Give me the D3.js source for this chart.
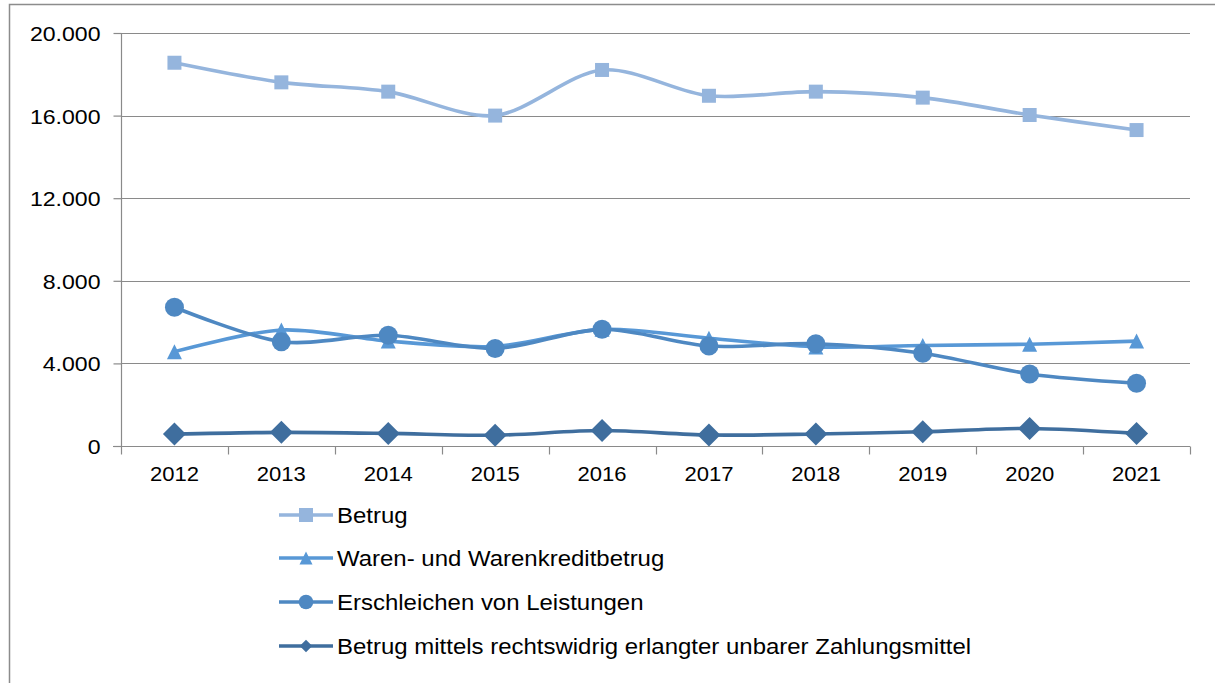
<!DOCTYPE html>
<html>
<head>
<meta charset="utf-8">
<script src="https://cdn.jsdelivr.net/npm/d3@7"></script>
<style>
  html, body { margin: 0; padding: 0; background: #fff; }
  svg { display: block; font-family: "Liberation Sans", Arial, sans-serif; }
</style>
</head>
<body>
<svg id="chart" width="1215" height="683"></svg>
<script>
// Fallzahlen je Jahr
const years = ["2012", "2013", "2014", "2015", "2016", "2017", "2018", "2019", "2020", "2021"];
const betrug = [18560, 17610, 17160, 16000, 18210, 16960, 17160, 16870, 16030, 15300];
const warenBetrug = [4570, 5620, 5080, 4820, 5650, 5220, 4800, 4870, 4930, 5080];
const erschleichen = [6720, 5050, 5360, 4720, 5650, 4840, 4950, 4490, 3490, 3040];
const unbarZahlung = [580, 660, 610, 520, 750, 530, 580, 690, 850, 610];
const yTicks = [0, 4000, 8000, 12000, 16000, 20000];

const seriesNames = [
  "Betrug",
  "Waren- und Warenkreditbetrug",
  "Erschleichen von Leistungen",
  "Betrug mittels rechtswidrig erlangter unbarer Zahlungsmittel"
];
const seriesValues = [betrug, warenBetrug, erschleichen, unbarZahlung];
const seriesColors = ["#95B5DD", "#5898D6", "#4E88C2", "#3F6E9E"];
const markerKinds = ["square", "triangle", "circle", "diamond"];

// marker shapes drawn centred on (0,0); s = overall size in px
function markerPath(kind, s) {
  const h = s / 2;
  if (kind === "square") return `M${-h},${-h}H${h}V${h}H${-h}Z`;
  if (kind === "diamond") return `M0,${-h}L${h},0L0,${h}L${-h},0Z`;
  if (kind === "triangle") return `M0,${-h}L${h},${h}L${-h},${h}Z`;
  return d3.arc()({ innerRadius: 0, outerRadius: h, startAngle: 0, endAngle: 2 * Math.PI });
}
const markerSizes = [14, 15, 19, 23];
const legendMarkerSizes = [14, 13, 14.5, 12.5];

const svg = d3.select("#chart");

// outer frame of the chart area
svg.append("rect")
  .attr("x", 9.5).attr("y", 4.5)
  .attr("width", 1300).attr("height", 800)
  .attr("fill", "none").attr("stroke", "#8c8c8c").attr("stroke-width", 1.5);

const plot = { left: 121, right: 1190, top: 33, bottom: 446 };

const x = d3.scaleBand().domain(years).range([plot.left, plot.right]).padding(0);
const y = d3.scaleLinear().domain([0, 20000]).range([plot.bottom, plot.top]);

const fmt = v => d3.format(",")(v).replace(/,/g, ".");

// horizontal gridlines
svg.append("g")
  .selectAll("line")
  .data(yTicks.filter(t => t > 0))
  .join("line")
  .attr("x1", plot.left).attr("x2", plot.right)
  .attr("y1", d => Math.round(y(d)) + 0.5).attr("y2", d => Math.round(y(d)) + 0.5)
  .attr("stroke", "#8a8a8a").attr("stroke-width", 1.2);

// y axis
const yAxis = svg.append("g")
  .attr("transform", `translate(${plot.left + 0.5},0)`)
  .call(d3.axisLeft(y).tickValues(yTicks).tickFormat(fmt).tickSize(8).tickPadding(13));
yAxis.select(".domain").attr("stroke", "#8a8a8a").attr("stroke-width", 1.2).attr("d", `M0,${plot.top}V${plot.bottom}`);
yAxis.selectAll(".tick line").attr("stroke", "#8a8a8a").attr("stroke-width", 1.2);
yAxis.selectAll(".tick text")
  .attr("x", null).attr("dy", null)
  .attr("transform", "translate(-21,7.5) scale(1.1,1)")
  .attr("font-size", 21).attr("fill", "#000")
  .attr("font-family", "Liberation Sans, Arial, sans-serif");

// x axis with ticks between categories
const xAxisG = svg.append("g").attr("transform", `translate(0,${Math.round(plot.bottom) + 0.5})`);
xAxisG.append("line")
  .attr("x1", plot.left - 8).attr("x2", plot.right)
  .attr("stroke", "#8a8a8a").attr("stroke-width", 1.2);
const boundaries = years.map(d => x(d)).concat([plot.right]);
xAxisG.selectAll(".xtick")
  .data(boundaries)
  .join("line")
  .attr("class", "xtick")
  .attr("x1", d => Math.round(d) + 0.5).attr("x2", d => Math.round(d) + 0.5)
  .attr("y1", 0).attr("y2", 8)
  .attr("stroke", "#8a8a8a").attr("stroke-width", 1.2);
xAxisG.selectAll(".xlabel")
  .data(years)
  .join("text")
  .attr("class", "xlabel")
  .attr("transform", d => `translate(${x(d) + x.bandwidth() / 2},34) scale(1.05,1)`)
  .attr("text-anchor", "middle")
  .attr("font-size", 21)
  .attr("fill", "#000")
  .text(d => d);

// series lines and markers
const line = d3.line()
  .x((d, i) => x(years[i]) + x.bandwidth() / 2)
  .y(d => y(d))
  .curve(d3.curveCardinal.tension(0.1));

seriesValues.forEach((vals, s) => {
  const g = svg.append("g");
  g.append("path")
    .datum(vals)
    .attr("d", line)
    .attr("fill", "none")
    .attr("stroke", seriesColors[s])
    .attr("stroke-width", 3.6)
    .attr("stroke-linejoin", "round");
  g.selectAll("path.marker")
    .data(vals)
    .join("path")
    .attr("class", "marker")
    .attr("d", markerPath(markerKinds[s], markerSizes[s]))
    .attr("transform", (d, i) => `translate(${x(years[i]) + x.bandwidth() / 2},${y(d)})`)
    .attr("fill", seriesColors[s]);
});

// legend
const legendRows = [515, 558, 602, 646];
const legend = svg.append("g");
seriesNames.forEach((name, s) => {
  const row = legend.append("g").attr("transform", `translate(0,${legendRows[s]})`);
  row.append("line")
    .attr("x1", 279).attr("x2", 333)
    .attr("stroke", seriesColors[s]).attr("stroke-width", 3.6);
  row.append("path")
    .attr("d", markerPath(markerKinds[s], legendMarkerSizes[s]))
    .attr("transform", "translate(306,0)")
    .attr("fill", seriesColors[s]);
  row.append("text")
    .attr("transform", "translate(337,7.5) scale(1.09,1)")
    .attr("font-size", 22)
    .attr("fill", "#000")
    .text(name);
});
</script>
</body>
</html>
